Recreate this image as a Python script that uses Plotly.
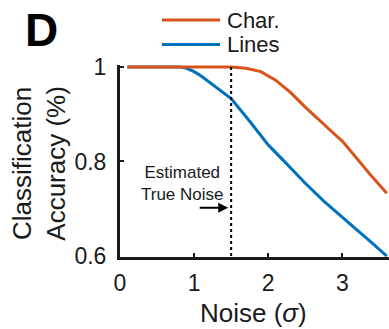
import plotly.graph_objects as go

# ---- data ----
char_x = [0.1, 0.5, 1.0, 1.5, 1.7, 1.9, 2.1, 2.3, 2.5, 2.7, 2.9, 3.0, 3.2, 3.4, 3.6]
char_y = [1.0, 1.0, 1.0, 1.0, 0.997, 0.99, 0.972, 0.946, 0.915, 0.885, 0.857, 0.843, 0.805, 0.768, 0.733]

lines_x = [0.1, 0.5, 0.8, 0.9, 1.0, 1.1, 1.2, 1.3, 1.4, 1.5, 1.75, 2.0, 2.25, 2.5, 2.75, 3.0, 3.2, 3.4, 3.6]
lines_y = [1.0, 1.0, 1.0, 0.997, 0.99, 0.98, 0.968, 0.956, 0.945, 0.933, 0.885, 0.835, 0.795, 0.754, 0.716, 0.681, 0.655, 0.628, 0.6]

series_names = ["Char.", "Lines"]
estimated_noise = 1.5

x_ticks = [0, 1, 2, 3]
y_ticks = [0.6, 0.8, 1.0]
y_tick_labels = ["0.6", "0.8", "1"]

colors = {"Char.": "#D95319", "Lines": "#0072BD"}
FONT = "Liberation Sans, Arial, Helvetica, sans-serif"
AX = "#1a1a1a"

fig = go.Figure()
fig.add_trace(go.Scatter(x=lines_x, y=lines_y, mode="lines", name="Lines",
                         line=dict(color=colors["Lines"], width=3), showlegend=False))
fig.add_trace(go.Scatter(x=char_x, y=char_y, mode="lines", name="Char.",
                         line=dict(color=colors["Char."], width=3), showlegend=False))

# estimated true noise dashed line
fig.add_shape(type="line", xref="x", yref="y", x0=estimated_noise, x1=estimated_noise,
              y0=0.6, y1=1.0, line=dict(color="black", width=2, dash="dot"))

# manual legend
for i, name in enumerate(series_names):
    yp = [1.234, 1.107][i]
    fig.add_shape(type="line", xref="paper", yref="paper", x0=0.156, x1=0.372,
                  y0=yp, y1=yp, line=dict(color=colors[name], width=3))
    fig.add_annotation(xref="paper", yref="paper", x=0.39, y=yp, text=name,
                       showarrow=False, xanchor="left", yanchor="middle",
                       font=dict(family=FONT, size=22, color=AX))

# panel letter
fig.add_annotation(xref="paper", yref="paper", x=-0.29, y=1.18, text="<b>D</b>",
                   showarrow=False, xanchor="center", yanchor="middle",
                   font=dict(family=FONT, size=46, color="black"))

# text annotation
fig.add_annotation(xref="x", yref="y", x=0.84, y=0.754, text="Estimated<br>True Noise",
                   showarrow=False, xanchor="center", yanchor="middle",
                   font=dict(family=FONT, size=17, color=AX))
fig.add_annotation(xref="x", yref="y", x=estimated_noise - 0.04, y=0.702, ax=-30, ay=0,
                   text="", showarrow=True, arrowhead=2, arrowsize=1, arrowwidth=2,
                   arrowcolor="black")

# axis titles
fig.add_annotation(xref="paper", yref="paper", x=-0.302, y=0.49,
                   text="Classification<br>Accuracy (%)", textangle=-90,
                   showarrow=False, xanchor="center", yanchor="middle",
                   font=dict(family=FONT, size=26, color=AX))
fig.add_annotation(xref="paper", yref="paper", x=0.498, y=-0.29,
                   text="Noise (<i>σ</i>)", showarrow=False,
                   xanchor="center", yanchor="middle",
                   font=dict(family=FONT, size=26, color=AX))

fig.update_layout(
    width=389, height=329,
    margin=dict(l=120, r=0, t=65, b=72),
    paper_bgcolor="white", plot_bgcolor="white",
    showlegend=False,
    font=dict(family=FONT, color=AX),
)
fig.update_xaxes(range=[0, 3.63], tickvals=x_ticks, ticktext=[str(v) for v in x_ticks],
                 showline=True, linewidth=3, linecolor=AX, ticks="inside",
                 ticklen=4, tickwidth=2, tickcolor=AX, showgrid=False, zeroline=False,
                 tickfont=dict(family=FONT, size=23, color=AX), ticklabelstandoff=3)
fig.update_yaxes(range=[0.598, 1.004], tickvals=y_ticks, ticktext=y_tick_labels,
                 showline=True, linewidth=3, linecolor=AX, ticks="inside",
                 ticklen=4, tickwidth=2, tickcolor=AX, showgrid=False, zeroline=False,
                 tickfont=dict(family=FONT, size=23, color=AX), ticklabelstandoff=6)

fig.write_html("out.html")
